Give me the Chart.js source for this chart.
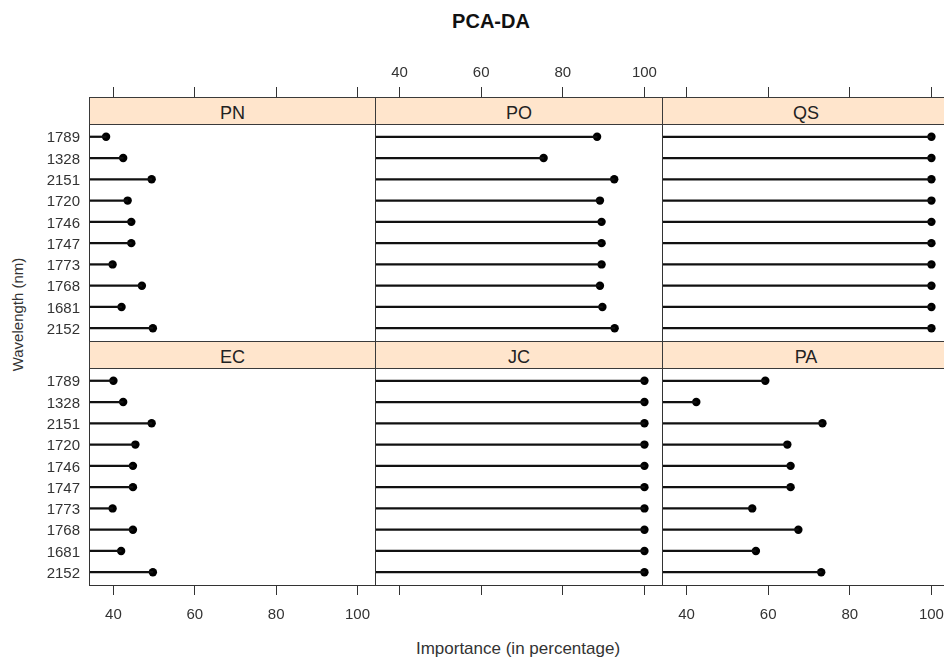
<!DOCTYPE html>
<html>
<head>
<meta charset="utf-8">
<title>PCA-DA</title>
<script src="https://cdn.jsdelivr.net/npm/chart.js@4.4.1/dist/chart.umd.min.js"></script>
<style>
  html, body { margin: 0; padding: 0; background: #fff; }
  #fig { position: relative; width: 944px; height: 667px; overflow: hidden; }
  #fig canvas { position: absolute; left: 0; top: 0; }
  .strip {
    position: absolute; height: 28px; box-sizing: border-box;
    background: #ffe5cc; border: 1px solid #3a3a3a;
    text-align: center; color: #222; z-index: 2;
    font: 18px "Liberation Sans", Arial, sans-serif;
    line-height: 24px; padding-top: 3px;
  }
  .title { position: absolute; left: 391px; width: 200px; top: 10px; text-align: center;
    font: bold 20px "Liberation Sans", Arial, sans-serif; color: #111; }
  .xtitle { position: absolute; left: 368px; width: 300px; top: 639px; text-align: center;
    font: 17px "Liberation Sans", Arial, sans-serif; color: #333; }
  .ytitle { position: absolute; left: -43px; top: 306px; width: 120px; text-align: center;
    transform: rotate(-90deg); font: 15px "Liberation Sans", Arial, sans-serif; color: #333; }
</style>
</head>
<body>
<div id="fig">
  <div class="title">PCA-DA</div>
  <div class="ytitle">Wavelength (nm)</div>
  <div class="xtitle">Importance (in percentage)</div>
</div>
<script>
// wavelengths, listed top to bottom in every panel
const wavelengths = ['1789', '1328', '2151', '1720', '1746', '1747', '1773', '1768', '1681', '2152'];
const xTicks = [40, 60, 80, 100];
const xMin = 34;
const xMax = 104.3;

// importance (%) per class
const pn = [38.2, 42.4, 49.4, 43.5, 44.4, 44.4, 39.8, 47.0, 42.0, 49.7];
const po = [88.4, 75.3, 92.6, 89.1, 89.5, 89.5, 89.5, 89.1, 89.7, 92.7];
const qs = [100, 100, 100, 100, 100, 100, 100, 100, 100, 100];
const ec = [40.0, 42.4, 49.4, 45.4, 44.8, 44.8, 39.8, 44.8, 41.9, 49.7];
const jc = [100, 100, 100, 100, 100, 100, 100, 100, 100, 100];
const pa = [59.3, 42.4, 73.3, 64.7, 65.5, 65.5, 56.1, 67.4, 57.0, 73.0];

const panels = [
  { name: 'PN', values: pn, row: 0, col: 0 },
  { name: 'PO', values: po, row: 0, col: 1 },
  { name: 'QS', values: qs, row: 0, col: 2 },
  { name: 'EC', values: ec, row: 1, col: 0 },
  { name: 'JC', values: jc, row: 1, col: 1 },
  { name: 'PA', values: pa, row: 1, col: 2 }
];

// page layout: panel column edges, row tops
const canvasW = 960, canvasH = 667;
const colEdges = [89, 375, 662, 949];
const rowTop = [124, 368];
const rowHeight = 217;
const stripH = 27;
const tickFont = { family: '"Liberation Sans", Arial, sans-serif', size: 15 };

const panelFrame = {
  id: 'panelFrame',
  afterDatasetsDraw(chart) {
    const a = chart.chartArea;
    const ctx = chart.ctx;
    ctx.save();
    ctx.strokeStyle = '#333';
    ctx.lineWidth = 1;
    ctx.strokeRect(Math.round(a.left) + 0.5, Math.round(a.top) + 0.5,
      Math.round(a.right - a.left), Math.round(a.bottom - a.top));
    ctx.restore();
  }
};

const fig = document.getElementById('fig');

panels.forEach(p => {
  const canvas = document.createElement('canvas');
  canvas.width = canvasW;
  canvas.height = canvasH;
  fig.appendChild(canvas);

  const left = colEdges[p.col];
  const right = colEdges[p.col + 1];

  const strip = document.createElement('div');
  strip.className = 'strip';
  strip.textContent = p.name;
  strip.style.left = left + 'px';
  strip.style.width = (right - left + 1) + 'px';
  strip.style.top = (rowTop[p.row] - stripH) + 'px';
  fig.appendChild(strip);

  const top = p.row === 0;
  // lattice alternates the labelled axis: top for the middle column, bottom for the outer ones
  const showXLabels = top ? p.col === 1 : p.col !== 1;

  new Chart(canvas, {
    type: 'bar',
    data: {
      datasets: [
        {
          data: p.values.map((v, i) => ({ x: [xMin, v], y: i })),
          backgroundColor: '#111',
          borderWidth: 0,
          barThickness: 1.6
        },
        {
          type: 'line',
          data: p.values.map((v, i) => ({ x: v, y: i })),
          showLine: false,
          pointRadius: 4.2,
          pointBackgroundColor: '#000',
          pointBorderWidth: 0
        }
      ]
    },
    options: {
      indexAxis: 'y',
      responsive: false,
      animation: false,
      events: [],
      layout: {
        padding: {
          top: top ? 60 : rowTop[1],
          bottom: top ? canvasH - (rowTop[0] + rowHeight) : canvasH - (rowTop[1] + rowHeight + 50),
          left: p.col === 0 ? 0 : left,
          right: canvasW - right
        }
      },
      plugins: { legend: { display: false }, tooltip: { enabled: false } },
      scales: {
        x: {
          type: 'linear',
          position: top ? 'top' : 'bottom',
          min: xMin,
          max: xMax,
          afterBuildTicks: s => { s.ticks = xTicks.map(v => ({ value: v })); },
          afterFit: s => { s.height = top ? 64 : 50; },
          ticks: {
            color: '#333',
            font: tickFont,
            padding: top ? 5 : 11,
            maxRotation: 0,
            autoSkip: false,
            callback: v => showXLabels ? String(v) : ''
          },
          grid: { drawOnChartArea: false, drawTicks: true, tickLength: top ? 37 : 10, color: '#333' },
          border: { display: false }
        },
        y: {
          type: 'linear',
          display: p.col === 0,
          reverse: true,
          offset: false,
          min: -0.6,
          max: wavelengths.length - 0.4,
          afterBuildTicks: s => { s.ticks = wavelengths.map((w, i) => ({ value: i })); },
          afterFit: s => { if (p.col === 0) s.width = colEdges[0]; },
          ticks: {
            color: '#333',
            font: tickFont,
            padding: 9,
            labelOffset: 1.5,
            autoSkip: false,
            callback: v => wavelengths[v]
          },
          grid: { display: false, drawTicks: false },
          border: { display: false }
        }
      }
    },
    plugins: [panelFrame]
  });
});
</script>
</body>
</html>
